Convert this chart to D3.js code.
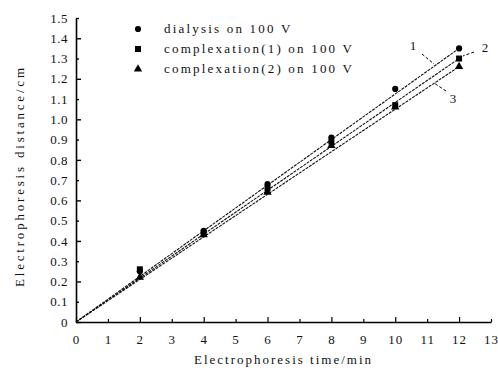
<!DOCTYPE html>
<html lang="en">
<head>
    <meta charset="UTF-8">
    <title>Electrophoresis</title>
    <script src="https://d3js.org/d3.v7.min.js"></script>
    <style>
        body { margin: 0; background: #fff; }
        text { font-family: "Liberation Serif", "DejaVu Serif", serif; fill: #111; }
    </style>
</head>
<body>
    <div id="chart"></div>
    <script>
        // Data
        const times = [2, 4, 6, 8, 10, 12];
        const dialysis = [0.25, 0.45, 0.68, 0.91, 1.15, 1.35];
        const complex1 = [0.26, 0.44, 0.66, 0.89, 1.07, 1.30];
        const complex2 = [0.22, 0.43, 0.64, 0.87, 1.06, 1.26];
        // fitted line end points (through origin)
        const fit1 = [[0, 0], [12, 1.35]];
        const fit2 = [[0, 0], [12, 1.30]];
        const fit3 = [[0, 0], [12, 1.26]];
        const seriesNames = ["dialysis on 100 V", "complexation(1) on 100 V", "complexation(2) on 100 V"];
        const xTicks = d3.range(0, 14);
        const yTicks = d3.range(0, 16).map(d => d / 10);

        const W = 498, H = 374;
        const margin = { left: 76, top: 18, right: 7, bottom: 52 };

        const svg = d3.select("#chart").append("svg")
            .attr("width", W).attr("height", H);

        const x = d3.scaleLinear().domain([0, 13]).range([margin.left, W - margin.right]);
        const y = d3.scaleLinear().domain([0, 1.5]).range([H - margin.bottom, margin.top]);

        // axes
        const xAxis = svg.append("g")
            .attr("transform", "translate(0," + y(0) + ")")
            .call(d3.axisBottom(x).tickValues(xTicks).tickFormat(d3.format("d"))
                .tickSize(0).tickPadding(13));
        xAxis.select(".domain").attr("stroke", "#000").attr("stroke-width", 1.6);
        xAxis.selectAll(".tick text").attr("font-size", 13).attr("letter-spacing", 1);
        xAxis.selectAll(".tick").append("line")
            .attr("stroke", "#000").attr("stroke-width", 1.2)
            .attr("y1", 0).attr("y2", d => d % 2 === 0 ? -5 : -3);

        const yAxis = svg.append("g")
            .attr("transform", "translate(" + x(0) + ",0)")
            .call(d3.axisLeft(y).tickValues(yTicks).tickFormat(d => d === 0 ? "0" : d3.format(".1f")(d))
                .tickSize(0).tickPadding(8));
        yAxis.select(".domain").attr("stroke", "#000").attr("stroke-width", 1.6);
        yAxis.selectAll(".tick text").attr("font-size", 13).attr("letter-spacing", 0.5);
        yAxis.selectAll(".tick").append("line")
            .attr("stroke", "#000").attr("stroke-width", 1.4)
            .attr("x1", 0).attr("x2", d => Math.round(d * 10) % 2 === 0 ? 5 : 3);

        // axis titles
        svg.append("text")
            .attr("x", x(6.5)).attr("y", H - 10)
            .attr("text-anchor", "middle").attr("font-size", 13)
            .attr("letter-spacing", 2)
            .text("Electrophoresis time/min");
        svg.append("text")
            .attr("transform", "translate(24," + y(0.72) + ") rotate(-90)")
            .attr("text-anchor", "middle").attr("font-size", 13)
            .attr("letter-spacing", 2.8)
            .text("Electrophoresis distance/cm");

        // fitted lines
        const line = d3.line().x(d => x(d[0])).y(d => y(d[1]));
        [fit1, fit2, fit3].forEach(f => {
            svg.append("path").datum(f)
                .attr("d", line)
                .attr("fill", "none")
                .attr("stroke", "#111")
                .attr("stroke-width", 1.1)
                .attr("stroke-dasharray", "3,1");
        });

        // markers
        const sym = [d3.symbolCircle, d3.symbolSquare, d3.symbolTriangle];
        const symSize = [30, 36, 30];
        [dialysis, complex1, complex2].forEach((vals, i) => {
            svg.append("g").selectAll("path")
                .data(vals)
                .join("path")
                .attr("transform", (d, j) => "translate(" + x(times[j]) + "," + y(d) + ")")
                .attr("d", d3.symbol().type(sym[i]).size(symSize[i]))
                .attr("fill", "#000");
        });

        // legend
        const legend = svg.append("g");
        seriesNames.forEach((name, i) => {
            const ly = 29 + i * 20;
            legend.append("path")
                .attr("transform", "translate(138," + ly + ")")
                .attr("d", d3.symbol().type(sym[i]).size(symSize[i]))
                .attr("fill", "#000");
            legend.append("text")
                .attr("x", 164).attr("y", ly + 4)
                .attr("font-size", 13)
                .attr("letter-spacing", 2.2)
                .text(name);
        });

        // curve labels with leader dashes
        const labels = [
            { t: "1", tx: 413, ty: 50, l: [[422, 54], [434, 64]] },
            { t: "2", tx: 485, ty: 52, l: [[474, 52], [463, 56]] },
            { t: "3", tx: 453, ty: 103, l: [[446, 91], [434, 83]] }
        ];
        labels.forEach(o => {
            svg.append("text").attr("x", o.tx).attr("y", o.ty)
                .attr("text-anchor", "middle").attr("font-size", 13).text(o.t);
            svg.append("line")
                .attr("x1", o.l[0][0]).attr("y1", o.l[0][1])
                .attr("x2", o.l[1][0]).attr("y2", o.l[1][1])
                .attr("stroke", "#000").attr("stroke-width", 1)
                .attr("stroke-dasharray", "3,2");
        });
    </script>
</body>
</html>
